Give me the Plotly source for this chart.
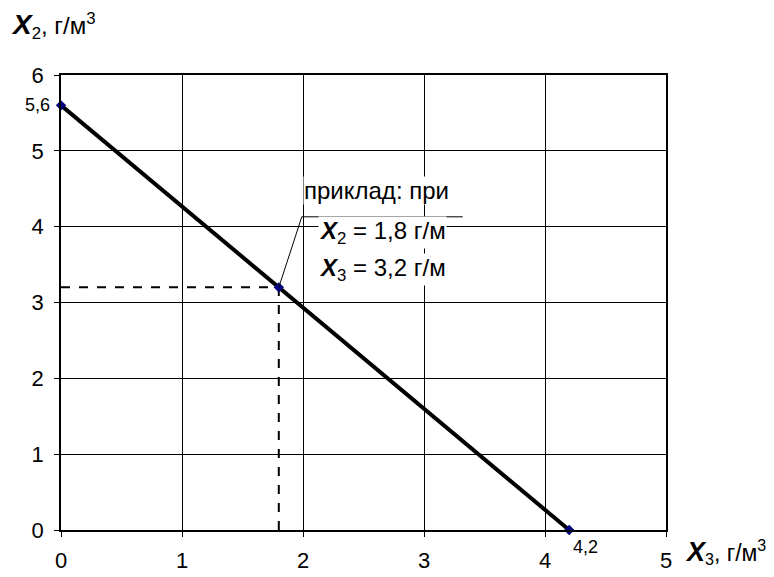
import plotly.graph_objects as go

# Data
x3_vals = [0, 1.8, 4.2]
x2_vals = [5.6, 3.2, 0]
ex_x3 = 1.8
ex_x2 = 3.2
x_ticks = [0, 1, 2, 3, 4, 5]
y_ticks = [0, 1, 2, 3, 4, 5, 6]
end_labels = ["5,6", "", "4,2"]

FONT = "Liberation Sans, Arial, sans-serif"

fig = go.Figure()

# dashed guide lines
fig.add_trace(go.Scatter(x=[0, ex_x3], y=[ex_x2, ex_x2], mode="lines",
                         line=dict(color="black", width=2, dash="dash"),
                         hoverinfo="skip", showlegend=False, cliponaxis=False))
fig.add_trace(go.Scatter(x=[ex_x3, ex_x3], y=[0, ex_x2], mode="lines",
                         line=dict(color="black", width=2, dash="dash"),
                         hoverinfo="skip", showlegend=False, cliponaxis=False))

# main line
fig.add_trace(go.Scatter(x=x3_vals, y=x2_vals, mode="lines+markers",
                         line=dict(color="black", width=4),
                         marker=dict(symbol="diamond", size=8, color="#000080"),
                         showlegend=False, cliponaxis=False))

fig.update_xaxes(range=[0, 5], tickvals=x_ticks, showgrid=True, gridcolor="black",
                 gridwidth=1, showline=True, linecolor="black", linewidth=1.5,
                 mirror=True, ticks="outside", ticklen=5, tickcolor="black",
                 zeroline=False, tickfont=dict(family=FONT, size=22, color="black"),
                 ticklabelstandoff=5, automargin=False)
fig.update_yaxes(range=[0, 6], tickvals=y_ticks, showgrid=True, gridcolor="black",
                 gridwidth=1, showline=True, linecolor="black", linewidth=1.5,
                 mirror=True, ticks="outside", ticklen=5, tickcolor="black",
                 zeroline=False, tickfont=dict(family=FONT, size=22, color="black"),
                 ticklabelstandoff=6, automargin=False)

annotations = [
    # end labels
    dict(x=x3_vals[0], y=x2_vals[0], text=end_labels[0], showarrow=False,
         xanchor="right", yanchor="middle", xshift=-9, yshift=0,
         font=dict(family=FONT, size=18, color="black")),
    dict(x=x3_vals[2], y=x2_vals[2], text=end_labels[2], showarrow=False,
         xanchor="left", yanchor="top", xshift=2, yshift=-5,
         font=dict(family=FONT, size=18, color="black")),
    # axis titles
    dict(x=0, y=1, xref="paper", yref="paper", xanchor="left", yanchor="bottom",
         xshift=-52, yshift=30, showarrow=False,
         text="<b><i><span style='font-size:28px'>X</span></i></b><sub>2</sub>, г/м<sup>3</sup>",
         font=dict(family=FONT, size=24, color="black")),
    dict(x=1, y=0, xref="paper", yref="paper", xanchor="left", yanchor="middle",
         xshift=17, yshift=-22, showarrow=False,
         text="<b><i><span style='font-size:27px'>X</span></i></b><sub>3</sub>, г/м<sup>3</sup>",
         font=dict(family=FONT, size=23, color="black")),
    # example callout text
    dict(x=2.0, y=4.48, xanchor="left", yanchor="middle", showarrow=False,
         text="приклад: при", bgcolor="white", borderpad=0,
         font=dict(family=FONT, size=24, color="black")),
    dict(x=2.12, y=3.92, xanchor="left", yanchor="middle", showarrow=False,
         text="<b><i>X</i></b><sub>2</sub> = 1,8 г/м", bgcolor="white", borderpad=0,
         font=dict(family=FONT, size=24, color="black")),
    dict(x=2.12, y=3.43, xanchor="left", yanchor="middle", showarrow=False,
         text="<b><i>X</i></b><sub>3</sub> = 3,2 г/м", bgcolor="white", borderpad=0,
         font=dict(family=FONT, size=24, color="black")),
]

shapes = [
    dict(type="line", x0=ex_x3, y0=ex_x2, x1=1.99, y1=4.13,
         line=dict(color="black", width=1)),
    dict(type="line", x0=1.99, y0=4.13, x1=3.32, y1=4.13,
         line=dict(color="black", width=1)),
]

# body has an 8px default margin in the exported page; compensate
fig.update_layout(
    width=766, height=569,
    margin=dict(l=53, r=108, t=67, b=47, autoexpand=False),
    paper_bgcolor="white", plot_bgcolor="white",
    annotations=annotations, shapes=shapes,
    font=dict(family=FONT, color="black"),
)

fig.write_html("out.html")
